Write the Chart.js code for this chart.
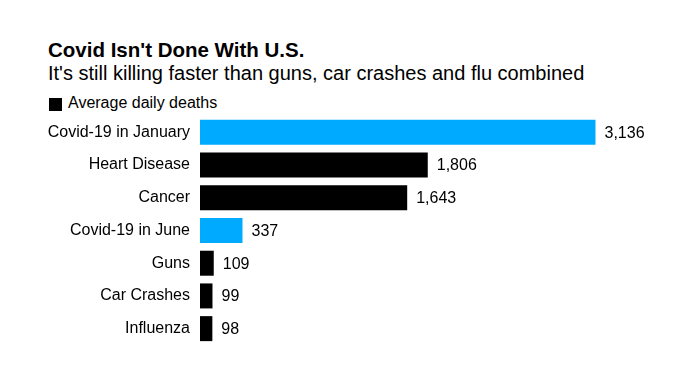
<!DOCTYPE html>
<html>
<head>
<meta charset="utf-8">
<script src="https://cdn.jsdelivr.net/npm/chart.js@4"></script>
<style>
  html, body { margin: 0; padding: 0; background: #fff; }
  body { width: 679px; height: 381px; position: relative; overflow: hidden; font-family: "Liberation Sans", Arial, sans-serif; color: #000; }
  .t { position: absolute; left: 48px; white-space: nowrap; line-height: 1; }
  #title { top: 40px; font-size: 20.5px; font-weight: bold; }
  #subtitle { top: 63px; font-size: 20px; }
  #legend { top: 95px; font-size: 16px; }
  #legend .sw { position: absolute; left: 1px; top: 3px; width: 13px; height: 13px; background: #000; }
  #legend .lt { position: absolute; left: 20px; top: 0; }
  #wrap { position: absolute; left: 0; top: 116px; width: 679px; height: 229px; }
</style>
</head>
<body>
<div class="t" id="title">Covid Isn't Done With U.S.</div>
<div class="t" id="subtitle">It's still killing faster than guns, car crashes and flu combined</div>
<div class="t" id="legend"><span class="sw"></span><span class="lt">Average daily deaths</span></div>
<div id="wrap"><canvas id="c"></canvas></div>
<script>
const categories = ["Covid-19 in January", "Heart Disease", "Cancer", "Covid-19 in June", "Guns", "Car Crashes", "Influenza"];
const deaths = [3136, 1806, 1643, 337, 109, 99, 98];
const seriesName = "Average daily deaths";

const covidBlue = "#00aaff";
const barColors = categories.map(c => c.startsWith("Covid") ? covidBlue : "#000000");

const valueLabels = {
  id: "valueLabels",
  afterDatasetsDraw(chart) {
    const ctx = chart.ctx;
    const meta = chart.getDatasetMeta(0);
    ctx.save();
    ctx.font = "16px 'Liberation Sans', Arial, sans-serif";
    ctx.fillStyle = "#000";
    ctx.textAlign = "left";
    ctx.textBaseline = "middle";
    meta.data.forEach((bar, i) => {
      const v = chart.data.datasets[0].data[i];
      ctx.fillText(v.toLocaleString("en-US"), bar.x + 9, bar.y + 1);
    });
    ctx.restore();
  }
};

new Chart(document.getElementById("c"), {
  type: "bar",
  data: {
    labels: categories,
    datasets: [{
      label: seriesName,
      data: deaths,
      backgroundColor: barColors,
      borderWidth: 0,
      barPercentage: 0.764,
      categoryPercentage: 1.0
    }]
  },
  options: {
    indexAxis: "y",
    responsive: true,
    maintainAspectRatio: false,
    animation: false,
    devicePixelRatio: 1,
    layout: { padding: { left: 0, right: 25, top: 0, bottom: 0 } },
    plugins: {
      legend: { display: false },
      title: { display: false },
      tooltip: { enabled: false }
    },
    scales: {
      x: {
        display: false,
        min: 0,
        max: 3600
      },
      y: {
        grid: { display: false, drawTicks: false },
        border: { display: false },
        ticks: {
          color: "#000",
          padding: 10,
          font: { family: "'Liberation Sans', Arial, sans-serif", size: 16 }
        },
        afterFit(scale) {
          scale.width = 200;
          scale.paddingTop = 0;
          scale.paddingBottom = 0;
        }
      }
    }
  },
  plugins: [valueLabels]
});
</script>
</body>
</html>
